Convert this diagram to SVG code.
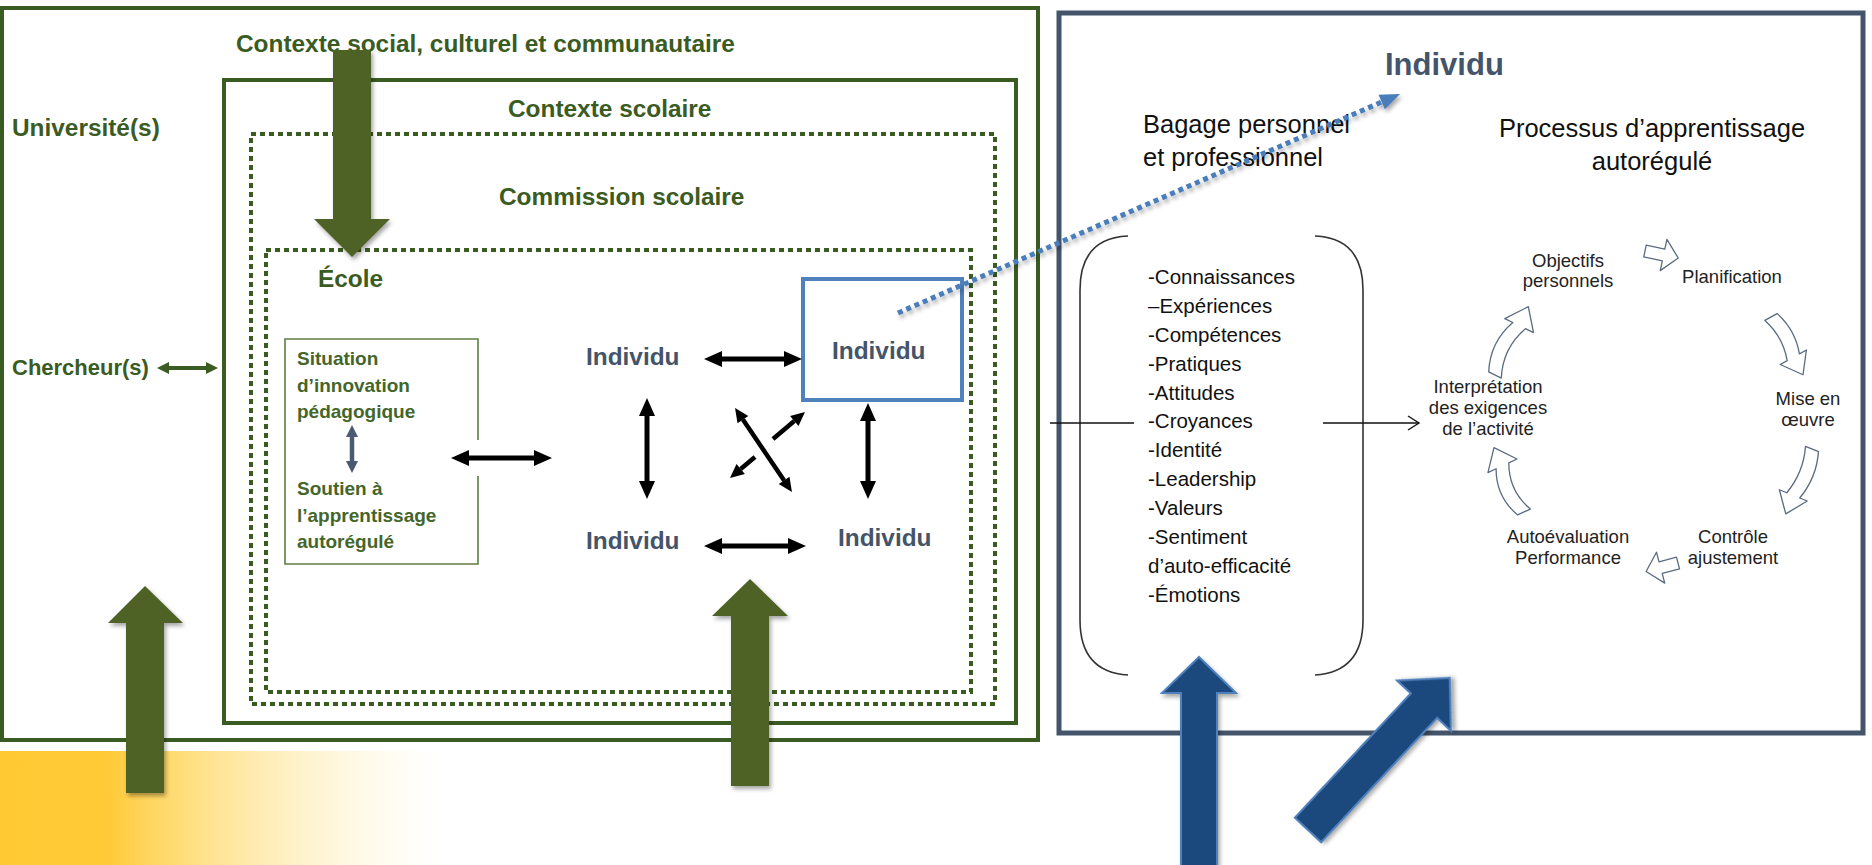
<svg xmlns="http://www.w3.org/2000/svg" width="1872" height="865" viewBox="0 0 1872 865">
<defs>
<style>
.g{font-family:"Liberation Sans",Arial,sans-serif;font-weight:bold;fill:#3a5b22;font-size:24.4px}
.ind{font-family:"Liberation Sans",Arial,sans-serif;font-weight:bold;fill:#44546a;font-size:24.4px}
.sit{font-family:"Liberation Sans",Arial,sans-serif;font-weight:bold;fill:#44662a;font-size:19px}
.r{font-family:"Liberation Sans",Arial,sans-serif;fill:#111;font-size:25.5px}
.li{font-family:"Liberation Sans",Arial,sans-serif;fill:#111;font-size:20.5px}
.cy{font-family:"Liberation Sans",Arial,sans-serif;fill:#222;font-size:18.5px;text-anchor:middle}
.box{fill:none;stroke:#3a5b22;stroke-width:4}
.dot{fill:none;stroke:#3a5b22;stroke-width:4;stroke-dasharray:5 4}
.blk{stroke:#000;stroke-width:5;fill:none;marker-start:url(#ah);marker-end:url(#ah)}
.ga{fill:#4f6228}
.ba{fill:#1f497d;stroke:#4f81bd;stroke-width:2}
.cyc{fill:#fff;stroke:#5b6b80;stroke-width:1.3;stroke-linejoin:round}
</style>
<marker id="ah" markerUnits="userSpaceOnUse" markerWidth="20" markerHeight="16" refX="0" refY="8" orient="auto-start-reverse" overflow="visible"><path d="M0,0 L18,8 L0,16 z" fill="#000"/></marker>
<marker id="ahs" markerUnits="userSpaceOnUse" markerWidth="16" markerHeight="14" refX="0" refY="6.5" orient="auto-start-reverse" overflow="visible"><path d="M0,0 L14,6.5 L0,13 z" fill="#000"/></marker>
<marker id="ahg" markerUnits="userSpaceOnUse" markerWidth="14" markerHeight="14" refX="0" refY="6" orient="auto-start-reverse" overflow="visible"><path d="M0,0 L12,6 L0,12 z" fill="#3a5b22"/></marker>
<marker id="ahsl" markerUnits="userSpaceOnUse" markerWidth="14" markerHeight="14" refX="0" refY="6" orient="auto-start-reverse" overflow="visible"><path d="M0,0 L12,6 L0,12 z" fill="#4a5a72"/></marker>
<marker id="ahb" markerUnits="userSpaceOnUse" markerWidth="22" markerHeight="18" refX="0" refY="8" orient="auto" overflow="visible"><path d="M0,0 L20,8 L0,16 z" fill="#4a7ebb"/></marker>
<linearGradient id="yel" x1="0" y1="0" x2="1" y2="0">
<stop offset="0" stop-color="#ffc934" stop-opacity="1"/>
<stop offset="0.24" stop-color="#ffca36" stop-opacity="1"/>
<stop offset="1" stop-color="#fff3c0" stop-opacity="0"/>
</linearGradient>
<filter id="sh" x="-20%" y="-20%" width="140%" height="140%"><feDropShadow dx="2" dy="3" stdDeviation="2" flood-color="#000" flood-opacity="0.35"/></filter>
</defs>
<rect x="0" y="0" width="1872" height="865" fill="#fff"/>
<rect x="0" y="751" width="445" height="114" fill="url(#yel)"/>

<g id="universites">
<rect class="box" x="2" y="8" width="1036" height="732"/>
<text class="g" x="12" y="136">Université(s)</text>
</g>
<g id="contexte-social">
<text class="g" x="236" y="52">Contexte social, culturel et communautaire</text>
</g>
<g id="contexte-scolaire">
<rect class="box" x="224" y="80" width="792" height="643"/>
<text class="g" x="508" y="117">Contexte scolaire</text>
</g>
<g id="commission-scolaire">
<rect class="dot" x="251" y="134" width="744" height="570"/>
<text class="g" x="499" y="205">Commission scolaire</text>
</g>
<g id="ecole">
<rect class="dot" x="266" y="250" width="705" height="442"/>
<text class="g" x="318" y="287">École</text>
</g>
<g id="chercheurs">
<text class="g" x="12" y="375" style="font-size:22px">Chercheur(s)</text>
</g>
<g id="situation">
<path d="M478,442 V339 H285 V564 H478 V473" fill="none" stroke="#5e7d40" stroke-width="1.6"/>
<text class="sit" x="297" y="365">Situation</text>
<text class="sit" x="297" y="392">d’innovation</text>
<text class="sit" x="297" y="418">pédagogique</text>
<text class="sit" x="297" y="495">Soutien à</text>
<text class="sit" x="297" y="522">l’apprentissage</text>
<text class="sit" x="297" y="548">autorégulé</text>
</g>
<g id="individu-1"><text class="ind" x="586" y="365">Individu</text></g>
<g id="individu-2">
<rect x="803" y="279" width="159" height="121" fill="none" stroke="#4f81bd" stroke-width="4"/>
<text class="ind" x="832" y="359">Individu</text>
</g>
<g id="individu-3"><text class="ind" x="586" y="549">Individu</text></g>
<g id="individu-4"><text class="ind" x="838" y="546">Individu</text></g>

<g id="individu-panel">
<rect x="1059" y="13" width="804" height="720" fill="none" stroke="#44546a" stroke-width="5"/>
<text class="ind" x="1385" y="75" style="font-size:31px">Individu</text>
</g>
<g id="bagage">
<text class="r" x="1143" y="133">Bagage personnel</text>
<text class="r" x="1143" y="166">et professionnel</text>
<path d="M1128,236 Q1080,238 1080,290 L1080,620 Q1080,672 1128,675" fill="none" stroke="#333" stroke-width="1.6"/>
<path d="M1315,236 Q1363,238 1363,290 L1363,620 Q1363,672 1315,675" fill="none" stroke="#333" stroke-width="1.6"/>
<text class="li" x="1148" y="284">-Connaissances</text>
<text class="li" x="1148" y="313">–Expériences</text>
<text class="li" x="1148" y="342">-Compétences</text>
<text class="li" x="1148" y="371">-Pratiques</text>
<text class="li" x="1148" y="400">-Attitudes</text>
<text class="li" x="1148" y="428">-Croyances</text>
<text class="li" x="1148" y="457">-Identité</text>
<text class="li" x="1148" y="486">-Leadership</text>
<text class="li" x="1148" y="515">-Valeurs</text>
<text class="li" x="1148" y="544">-Sentiment</text>
<text class="li" x="1148" y="573">d’auto-efficacité</text>
<text class="li" x="1148" y="602">-Émotions</text>
</g>
<g id="processus">
<text class="r" x="1652" y="137" text-anchor="middle">Processus d’apprentissage</text>
<text class="r" x="1652" y="170" text-anchor="middle">autorégulé</text>
</g>
<g id="objectifs"><text class="cy" x="1568" y="267">Objectifs</text><text class="cy" x="1568" y="287">personnels</text></g>
<g id="planification"><text class="cy" x="1732" y="283">Planification</text></g>
<g id="mise-en-oeuvre"><text class="cy" x="1808" y="405">Mise en</text><text class="cy" x="1808" y="426">œuvre</text></g>
<g id="controle"><text class="cy" x="1733" y="543">Contrôle</text><text class="cy" x="1733" y="564">ajustement</text></g>
<g id="autoevaluation"><text class="cy" x="1568" y="543">Autoévaluation</text><text class="cy" x="1568" y="564">Performance</text></g>
<g id="interpretation"><text class="cy" x="1488" y="393">Interprétation</text><text class="cy" x="1488" y="414">des exigences</text><text class="cy" x="1488" y="435">de l’activité</text></g>

<g id="connectors">
<polygon class="ga" filter="url(#sh)" points="333,50 371,50 371,219 390,219 352,257 314,219 333,219"/>
<polygon class="ga" filter="url(#sh)" points="145,586 183,623 164,623 164,793 126,793 126,623 108,623"/>
<polygon class="ga" filter="url(#sh)" points="750,579 788,616 769,616 769,786 731,786 731,616 712,616"/>
<line x1="169" y1="368" x2="206" y2="368" stroke="#3a5b22" stroke-width="4" marker-start="url(#ahg)" marker-end="url(#ahg)"/>
<line x1="352" y1="437" x2="352" y2="461" stroke="#4a5a72" stroke-width="4.5" marker-start="url(#ahsl)" marker-end="url(#ahsl)"/>
<rect x="476" y="440" width="5" height="36" fill="#fff"/>
<line class="blk" x1="469" y1="458" x2="534" y2="458"/>
<line class="blk" x1="722" y1="359" x2="784" y2="359"/>
<line class="blk" x1="722" y1="546" x2="788" y2="546"/>
<line class="blk" x1="647" y1="416" x2="647" y2="481"/>
<line class="blk" x1="868" y1="421" x2="868" y2="481"/>
<line x1="742.9" y1="419.6" x2="784.1" y2="480.4" stroke="#000" stroke-width="4.5" marker-start="url(#ahs)" marker-end="url(#ahs)"/>
<line x1="773" y1="439" x2="794.3" y2="421" stroke="#000" stroke-width="4.5" marker-end="url(#ahs)"/>
<line x1="755" y1="457" x2="740.7" y2="469" stroke="#000" stroke-width="4.5" marker-end="url(#ahs)"/>
<line x1="898" y1="313" x2="1381.7" y2="102" stroke="#4a7ebb" stroke-width="5" stroke-dasharray="5 4" marker-end="url(#ahb)" filter="url(#sh)"/>
<line x1="1050" y1="423" x2="1134" y2="423" stroke="#111" stroke-width="1.4"/>
<line x1="1323" y1="423" x2="1419" y2="423" stroke="#111" stroke-width="1.4"/>
<polyline points="1408,416 1419,423 1408,430" fill="none" stroke="#111" stroke-width="1.4"/>
<polygon class="cyc" transform="translate(1645,251) rotate(12)" points="0,-6 19,-6 19,-16 34,0 19,16 19,6 0,6"/>
<path class="cyc" transform="translate(1771,317) rotate(61)" d="M0,-7 Q23,-15 46,-7 L46,-15 L66,0 L46,15 L46,7 Q23,-1 0,7 Z"/>
<path class="cyc" transform="translate(1812,449) rotate(112)" d="M0,-7 Q25,-15 50,-7 L50,-15 L70,0 L50,15 L50,7 Q25,-1 0,7 Z"/>
<polygon class="cyc" transform="translate(1678,563) rotate(165)" points="0,-6 18,-6 18,-16 33,0 18,16 18,6 0,6"/>
<path class="cyc" transform="translate(1524,512) rotate(-115)" d="M0,-7 Q25.5,-19 51,-7 L51,-16 L71,0 L51,16 L51,7 Q25.5,-5 0,7 Z"/>
<path class="cyc" transform="translate(1495,375) rotate(-64)" d="M0,-7 Q27.5,-19 55,-7 L55,-16 L76,0 L55,16 L55,7 Q27.5,-5 0,7 Z"/>
<polygon class="ba" filter="url(#sh)" points="1199,657 1236,693 1217,693 1217,870 1181,870 1181,693 1162,693"/>
<polygon class="ba" filter="url(#sh)" transform="translate(1308,830) rotate(-47)" points="0,-18 170,-18 170,-37 208,0 170,37 170,18 0,18"/>
</g>
</svg>
